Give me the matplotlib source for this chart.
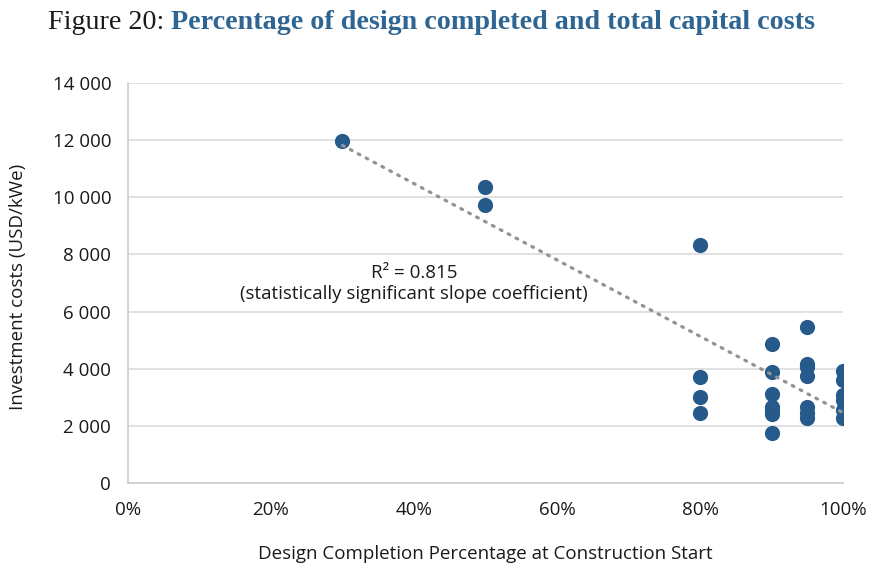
import numpy as np
import matplotlib
matplotlib.use("Agg")
from matplotlib import pyplot as plt
from matplotlib.ticker import FuncFormatter

plt.rcParams['font.family'] = ['Open Sans', 'DejaVu Sans']

# datos
design_pct = [30, 50, 50,
              80, 80, 80, 80,
              90, 90, 90, 90, 90, 90, 90,
              95, 95, 95, 95, 95, 95, 95,
              100, 100, 100, 100, 100, 100]
cost = [11960, 10350, 9750,
        8330, 3710, 3010, 2430,
        4870, 3890, 3120, 2660, 2500, 2420, 1740,
        5470, 4160, 4060, 3750, 2670, 2450, 2260,
        3900, 3600, 3080, 2900, 2550, 2270]

x_ticks = [0, 20, 40, 60, 80, 100]
y_ticks = [0, 2000, 4000, 6000, 8000, 10000, 12000, 14000]

azul = '#255a8a'
gris = '#dedede'
tam = 13.5

fig = plt.figure(figsize=(8.7, 5.66), dpi=100)
ax = fig.add_axes([0.147, 0.147, 0.822, 0.706])

ax.scatter(design_pct, cost, s=120, color=azul, zorder=3, linewidths=0)

# linea de tendencia
pend, orig = np.polyfit(design_pct, cost, 1)
xt = np.array([min(design_pct), max(design_pct)])
ax.plot(xt, pend * xt + orig, color='#939393', lw=2.3,
        linestyle=(0, (0.6, 2.2)), dash_capstyle='round', zorder=4)

ax.text(40, 6980, 'R² = 0.815\n(statistically significant slope coefficient)',
        ha='center', va='center', multialignment='center', fontsize=tam,
        color='#1a1a1a', linespacing=1.2)

ax.set_xlim(0, 100)
ax.set_ylim(0, 14000)
ax.set_xticks(x_ticks)
ax.set_yticks(y_ticks)
ax.xaxis.set_major_formatter(FuncFormatter(lambda v, p: f'{v:.0f}%'))
ax.yaxis.set_major_formatter(FuncFormatter(lambda v, p: f'{v:,.0f}'.replace(',', ' ')))
ax.tick_params(length=0, labelsize=tam, colors='#1a1a1a')
ax.tick_params(axis='x', pad=13)
ax.tick_params(axis='y', pad=12)

ax.grid(axis='y', color=gris, lw=1.3)
ax.set_axisbelow(True)
for lado in ['top', 'right']:
    ax.spines[lado].set_visible(False)
for lado in ['left', 'bottom']:
    ax.spines[lado].set_color('#d0d0d0')
    ax.spines[lado].set_linewidth(1.3)

ax.set_ylabel('Investment costs (USD/kWe)', fontsize=tam, color='#1a1a1a')
ax.yaxis.set_label_coords(-0.141, 0.49)
ax.set_xlabel('Design Completion Percentage at Construction Start', fontsize=tam,
              color='#1a1a1a')
ax.xaxis.set_label_coords(0.5, -0.155)

# titulo en dos partes, ajustado al ancho del original
fig.canvas.draw()
rend = fig.canvas.get_renderer()
x0 = 48 / 870
ancho_obj = 770
fs = 20
for _ in range(3):
    t1 = fig.text(x0, 0.96, 'Figure 20: ', fontsize=fs, family='Liberation Serif',
                  color='#1a1a1a', va='center')
    bb = t1.get_window_extent(renderer=rend)
    t2 = fig.text(bb.x1 / fig.bbox.width, 0.96,
                  'Percentage of design completed and total capital costs',
                  fontsize=fs, family='Liberation Serif', fontweight='bold',
                  color='#2e6592', va='center')
    bb2 = t2.get_window_extent(renderer=rend)
    total = bb2.x1 - bb.x0
    if abs(total - ancho_obj) < 3:
        break
    t1.remove()
    t2.remove()
    fs = fs * ancho_obj / total

fig.savefig('out.png', dpi=100)
